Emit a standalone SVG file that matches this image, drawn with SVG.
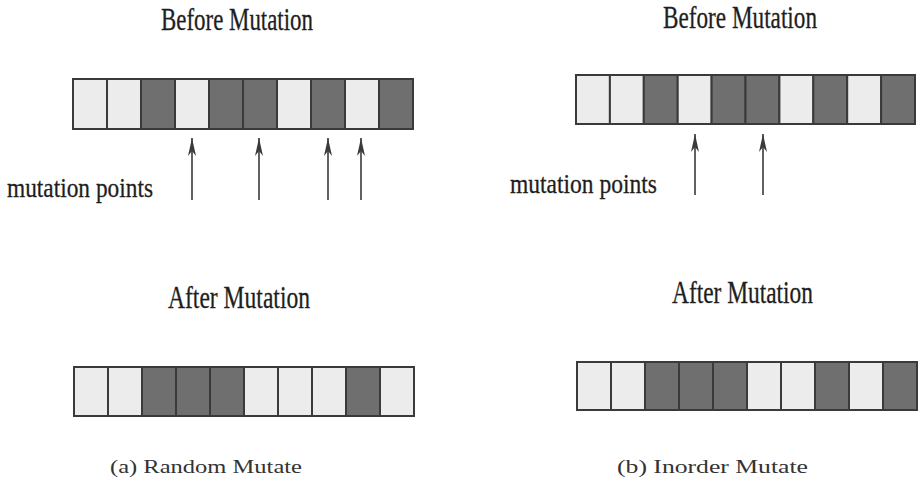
<svg xmlns="http://www.w3.org/2000/svg" width="919" height="482" viewBox="0 0 919 482">
<style>
.t{font-family:"Liberation Serif","Times New Roman",serif;fill:#1e1e1e}
.h{font-size:31px;stroke:#1e1e1e;stroke-width:0.3}
.m{font-size:28px;stroke:#1e1e1e;stroke-width:0.3}
.c{font-size:19px;fill:#333}
.L{fill:#ececec;stroke:#3a3a3a;stroke-width:2}
.D{fill:#6f6f6f;stroke:#3a3a3a;stroke-width:2}
.a{stroke:#3a3a3a;stroke-width:1.6;fill:none}
</style>
<defs>
<marker id="ah" viewBox="0 0 20 10" refX="19" refY="5" markerWidth="20" markerHeight="10" markerUnits="userSpaceOnUse" orient="auto">
<path d="M19,5 L1,1 L6,5 L1,9 Z" fill="#3a3a3a"/>
</marker>
</defs>
<rect width="919" height="482" fill="#ffffff"/>

<g id="labels">
<text class="t h" x="161" y="30" textLength="152" lengthAdjust="spacingAndGlyphs">Before Mutation</text>
<text class="t h" x="663" y="28" textLength="154" lengthAdjust="spacingAndGlyphs">Before Mutation</text>
<text class="t m" x="7" y="197" textLength="146" lengthAdjust="spacingAndGlyphs">mutation points</text>
<text class="t m" x="510" y="193" textLength="147" lengthAdjust="spacingAndGlyphs">mutation points</text>
<text class="t h" x="168" y="308" textLength="142" lengthAdjust="spacingAndGlyphs">After Mutation</text>
<text class="t h" x="672" y="303" textLength="141" lengthAdjust="spacingAndGlyphs">After Mutation</text>
<text class="t c" x="110" y="473" textLength="192" lengthAdjust="spacingAndGlyphs">(a) Random Mutate</text>
<text class="t c" x="617" y="473" textLength="191" lengthAdjust="spacingAndGlyphs">(b) Inorder Mutate</text>
</g>

<g id="bar-a-before">
<rect class="L" x="73" y="79" width="34" height="50"/>
<rect class="L" x="107" y="79" width="34" height="50"/>
<rect class="D" x="141" y="79" width="34" height="50"/>
<rect class="L" x="175" y="79" width="34" height="50"/>
<rect class="D" x="209" y="79" width="34" height="50"/>
<rect class="D" x="243" y="79" width="34" height="50"/>
<rect class="L" x="277" y="79" width="34" height="50"/>
<rect class="D" x="311" y="79" width="34" height="50"/>
<rect class="L" x="345" y="79" width="34" height="50"/>
<rect class="D" x="379" y="79" width="34" height="50"/>
</g>

<g id="bar-b-before">
<rect class="L" x="576" y="75" width="33.9" height="49"/>
<rect class="L" x="609.9" y="75" width="33.9" height="49"/>
<rect class="D" x="643.8" y="75" width="33.9" height="49"/>
<rect class="L" x="677.7" y="75" width="33.9" height="49"/>
<rect class="D" x="711.6" y="75" width="33.9" height="49"/>
<rect class="D" x="745.5" y="75" width="33.9" height="49"/>
<rect class="L" x="779.4" y="75" width="33.9" height="49"/>
<rect class="D" x="813.3" y="75" width="33.9" height="49"/>
<rect class="L" x="847.2" y="75" width="33.9" height="49"/>
<rect class="D" x="881.1" y="75" width="33.9" height="49"/>
</g>

<g id="bar-a-after">
<rect class="L" x="74" y="367" width="34" height="49"/>
<rect class="L" x="108" y="367" width="34" height="49"/>
<rect class="D" x="142" y="367" width="34" height="49"/>
<rect class="D" x="176" y="367" width="34" height="49"/>
<rect class="D" x="210" y="367" width="34" height="49"/>
<rect class="L" x="244" y="367" width="34" height="49"/>
<rect class="L" x="278" y="367" width="34" height="49"/>
<rect class="L" x="312" y="367" width="34" height="49"/>
<rect class="D" x="346" y="367" width="34" height="49"/>
<rect class="L" x="380" y="367" width="34" height="49"/>
</g>

<g id="bar-b-after">
<rect class="L" x="577" y="362" width="34" height="48"/>
<rect class="L" x="611" y="362" width="34" height="48"/>
<rect class="D" x="645" y="362" width="34" height="48"/>
<rect class="D" x="679" y="362" width="34" height="48"/>
<rect class="D" x="713" y="362" width="34" height="48"/>
<rect class="L" x="747" y="362" width="34" height="48"/>
<rect class="L" x="781" y="362" width="34" height="48"/>
<rect class="D" x="815" y="362" width="34" height="48"/>
<rect class="L" x="849" y="362" width="34" height="48"/>
<rect class="D" x="883" y="362" width="34" height="48"/>
</g>

<g id="connectors">
<line class="a" x1="192" y1="200" x2="192" y2="138" marker-end="url(#ah)"/>
<line class="a" x1="259" y1="200" x2="259" y2="138" marker-end="url(#ah)"/>
<line class="a" x1="328" y1="200" x2="328" y2="138" marker-end="url(#ah)"/>
<line class="a" x1="361" y1="200" x2="361" y2="138" marker-end="url(#ah)"/>
<line class="a" x1="695" y1="195" x2="695" y2="134" marker-end="url(#ah)"/>
<line class="a" x1="763" y1="195" x2="763" y2="134" marker-end="url(#ah)"/>
</g>
</svg>
